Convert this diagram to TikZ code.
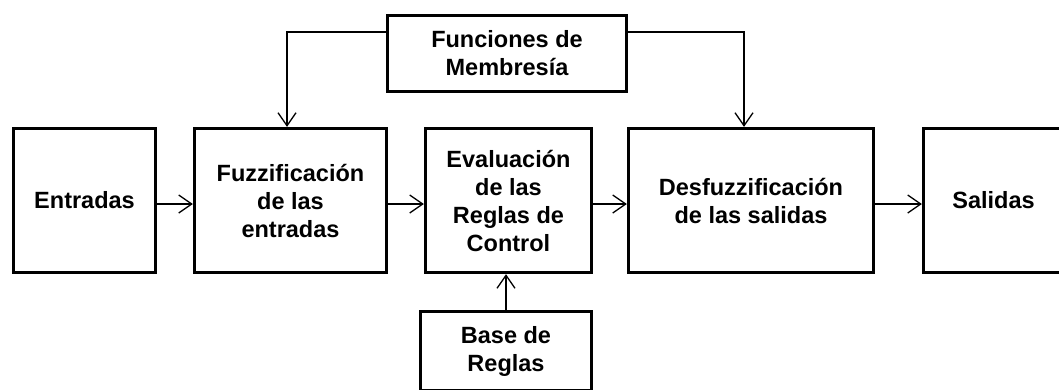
\documentclass[tikz,border=0pt]{standalone}
\usepackage{fontspec}
\setmainfont{Liberation Sans}
\usetikzlibrary{arrows.meta}
\begin{document}
\begin{tikzpicture}[x=1pt,y=-1pt,
  box/.style={draw, line width=3.3pt, align=center, inner sep=0pt,
    font=\fontsize{23.5}{28}\selectfont\bfseries},
  conn/.style={line width=1.3pt, -{Straight Barb[length=13pt,width=18pt,line width=1.3pt]}}]
\clip (0,0) rectangle (1059,389);
\node[box, minimum width=142pt, minimum height=144pt] (ent) at (84.5,200.5) {Entradas};
\node[box, minimum width=192pt, minimum height=144pt] (fuz) at (290.5,200.5) {Fuzzificación\\de las\\entradas};
\node[box, minimum width=166pt, minimum height=144pt] (eva) at (508.5,200.5) {Evaluación\\de las\\Reglas de\\Control};
\node[box, minimum width=245pt, minimum height=144pt] (des) at (751,200.5) {Desfuzzificación\\de las salidas};
\node[box, minimum width=140pt, minimum height=144pt] (sal) at (993.5,200.5) {Salidas};
\node[box, minimum width=239pt, minimum height=76pt] (fun) at (507,53.5) {Funciones de\\Membresía};
\node[box, minimum width=171pt, minimum height=79pt] (bas) at (506,351) {Base de\\Reglas};
\draw[conn] ([yshift=-3.5pt]ent.east) -- ([yshift=-3.5pt]fuz.west);
\draw[conn] ([yshift=-3.5pt]fuz.east) -- ([yshift=-3.5pt]eva.west);
\draw[conn] ([yshift=-3.5pt]eva.east) -- ([yshift=-3.5pt]des.west);
\draw[conn] ([yshift=-3.5pt]des.east) -- ([yshift=-3.5pt]sal.west);
\draw[conn] (fun.west |- 0,32) -| ([xshift=-3.5pt]fuz.north);
\draw[conn] (fun.east |- 0,32) -| ([xshift=-7pt]des.north);
\draw[conn] (bas.north) -- (bas.north |- eva.south);
\end{tikzpicture}
\end{document}
